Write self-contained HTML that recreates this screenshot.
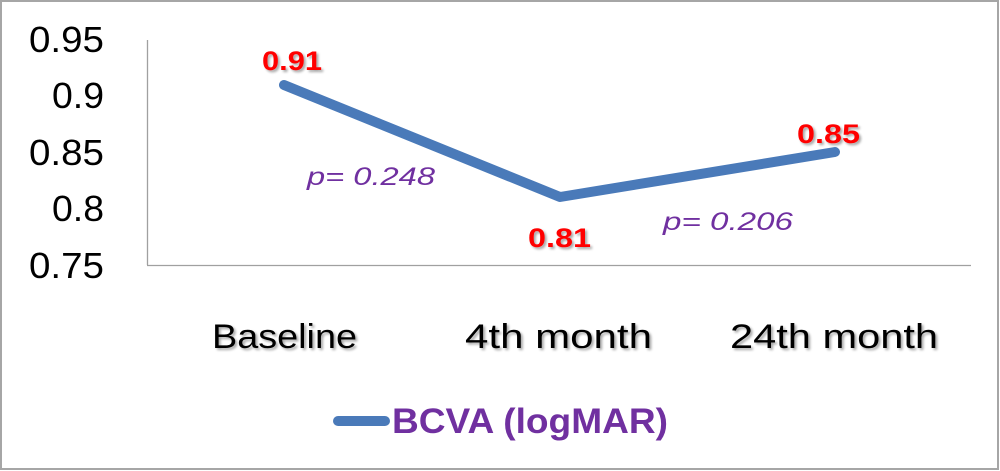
<!DOCTYPE html>
<html><head><meta charset="utf-8"><style>
html,body{margin:0;padding:0;background:#fff;}
svg{display:block;}
text{font-family:"Liberation Sans",sans-serif;}
</style></head><body>
<svg width="1000" height="471" viewBox="0 0 1000 471" xmlns="http://www.w3.org/2000/svg">
<defs>
<filter id="sh" x="-10%" y="-20%" width="130%" height="150%">
<feGaussianBlur in="SourceAlpha" stdDeviation="1.2"/>
<feOffset dx="2" dy="2" result="b"/>
<feComponentTransfer><feFuncA type="linear" slope="0.35"/></feComponentTransfer>
<feMerge><feMergeNode/><feMergeNode in="SourceGraphic"/></feMerge>
</filter>
</defs>
<rect x="1" y="1" width="997" height="468" fill="#fff" stroke="#a6a6a6" stroke-width="2"/>
<!-- axes -->
<line x1="147.5" y1="40" x2="147.5" y2="265" stroke="#a0a0a0" stroke-width="1.3"/>
<line x1="147" y1="265.5" x2="971" y2="265.5" stroke="#a0a0a0" stroke-width="1.3"/>
<!-- y labels -->
<g font-size="36" fill="#000" text-anchor="end">
<text x="104" y="52" textLength="75" lengthAdjust="spacingAndGlyphs">0.95</text>
<text x="104" y="108" textLength="52" lengthAdjust="spacingAndGlyphs">0.9</text>
<text x="104" y="165" textLength="75" lengthAdjust="spacingAndGlyphs">0.85</text>
<text x="104" y="221" textLength="52" lengthAdjust="spacingAndGlyphs">0.8</text>
<text x="104" y="278" textLength="75" lengthAdjust="spacingAndGlyphs">0.75</text>
</g>
<!-- series -->
<polyline points="284,85 560,197 835,152" fill="none" stroke="#4a7ab9" stroke-width="10" stroke-linecap="round" stroke-linejoin="round"/>
<!-- data labels -->
<g font-size="27" fill="#ff0000" font-weight="bold" filter="url(#sh)">
<text x="262" y="70" textLength="60" lengthAdjust="spacingAndGlyphs">0.91</text>
<text x="528" y="247" textLength="63" lengthAdjust="spacingAndGlyphs">0.81</text>
<text x="797" y="143" textLength="63" lengthAdjust="spacingAndGlyphs">0.85</text>
</g>
<!-- p values -->
<g font-size="25" fill="#7030a0" font-style="italic">
<text x="307" y="185" textLength="128" lengthAdjust="spacingAndGlyphs">p= 0.248</text>
<text x="663" y="230" textLength="130" lengthAdjust="spacingAndGlyphs">p= 0.206</text>
</g>
<!-- x labels -->
<g font-size="34" fill="#000" filter="url(#sh)">
<text x="212" y="348" textLength="145" lengthAdjust="spacingAndGlyphs">Baseline</text>
<text x="465" y="348" textLength="187" lengthAdjust="spacingAndGlyphs">4th month</text>
<text x="730" y="348" textLength="208" lengthAdjust="spacingAndGlyphs">24th month</text>
</g>
<!-- legend -->
<line x1="338" y1="421" x2="385" y2="421" stroke="#4a7ab9" stroke-width="10" stroke-linecap="round"/>
<text x="392" y="433" font-size="35" font-weight="bold" fill="#7030a0" textLength="276" lengthAdjust="spacingAndGlyphs">BCVA (logMAR)</text>
</svg>
</body></html>
